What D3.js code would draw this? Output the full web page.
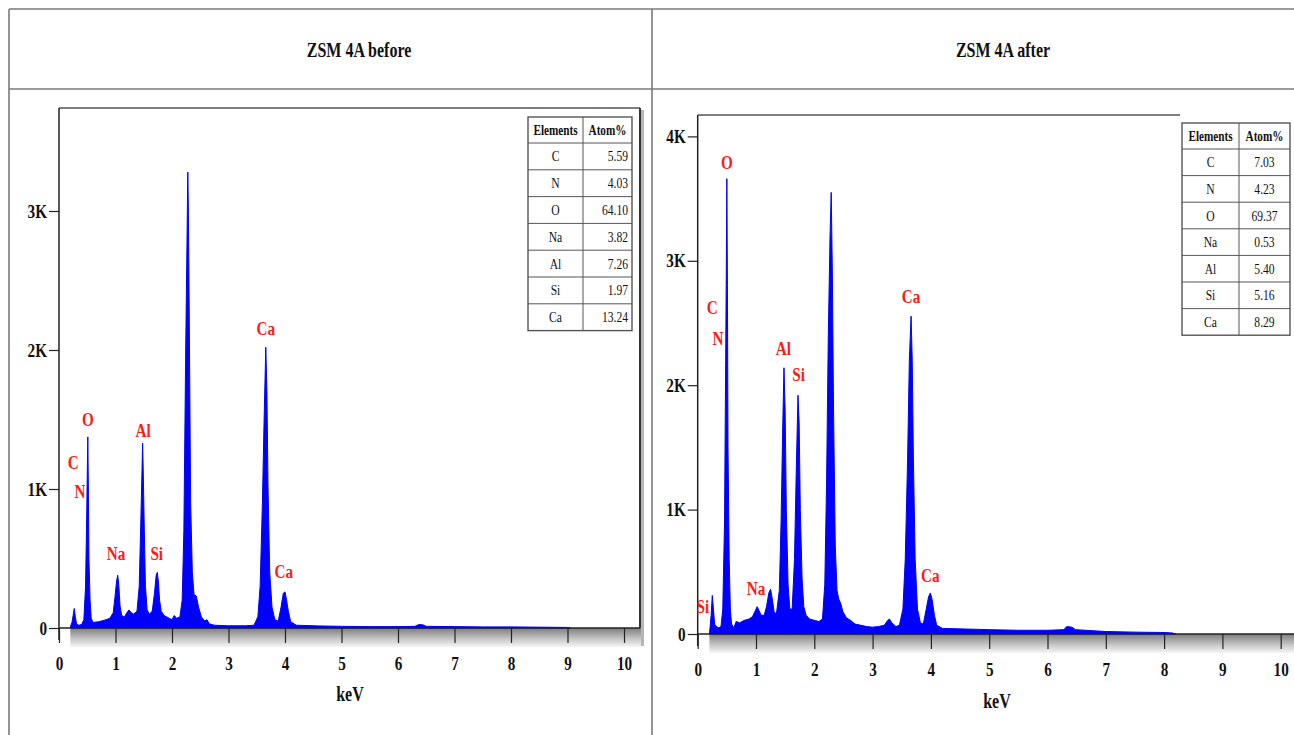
<!DOCTYPE html>
<html>
<head>
<meta charset="utf-8">
<script src="https://cdn.jsdelivr.net/npm/d3@7"></script>
<style>
  body { margin: 0; background: #fff; }
  svg { display: block; font-family: "Liberation Serif", "DejaVu Serif", serif; }
</style>
</head>
<body>
<svg id="chart" width="1294" height="735"></svg>
<script>
// EDS spectra, [keV, counts]
const spectrumBefore = [
  [0.20, 0], [0.21, 20], [0.23, 40], [0.25, 90], [0.27, 140], [0.29, 80], [0.31, 30], [0.35, 20],
  [0.40, 25], [0.44, 60], [0.47, 300], [0.49, 800], [0.50, 1100], [0.51, 1375], [0.52, 1000],
  [0.53, 500], [0.55, 200], [0.57, 70], [0.60, 40], [0.70, 45], [0.80, 55], [0.90, 70], [0.96, 110],
  [0.99, 220], [1.02, 340], [1.04, 380], [1.06, 300], [1.08, 160], [1.11, 90], [1.16, 80],
  [1.20, 110], [1.24, 130], [1.28, 110], [1.32, 100], [1.38, 120], [1.42, 300], [1.45, 800],
  [1.47, 1150], [1.48, 1330], [1.49, 1150], [1.51, 700], [1.53, 300], [1.56, 130], [1.60, 100],
  [1.65, 120], [1.69, 250], [1.72, 380], [1.74, 400], [1.76, 330], [1.78, 200], [1.81, 120],
  [1.86, 90], [1.95, 70], [2.00, 60], [2.04, 90], [2.08, 70], [2.14, 80], [2.18, 200], [2.21, 700],
  [2.24, 1900], [2.26, 2600], [2.28, 3280], [2.29, 3000], [2.31, 2000], [2.33, 900], [2.36, 400],
  [2.39, 240], [2.43, 230], [2.47, 150], [2.52, 80], [2.58, 50], [2.62, 60], [2.66, 30], [2.75, 20],
  [3.00, 16], [3.30, 16], [3.45, 20], [3.52, 80], [3.56, 300], [3.60, 900], [3.63, 1500],
  [3.66, 2020], [3.68, 1700], [3.70, 1000], [3.73, 400], [3.77, 150], [3.82, 60], [3.88, 50],
  [3.93, 150], [3.97, 250], [4.00, 260], [4.02, 220], [4.06, 120], [4.10, 45], [4.20, 20],
  [4.60, 15], [5.00, 12], [5.50, 10], [6.00, 10], [6.30, 12], [6.37, 25], [6.45, 22], [6.50, 12],
  [7.00, 10], [7.50, 8], [8.00, 8], [8.50, 6], [9.00, 4], [9.05, 0]
];

const spectrumAfter = [
  [0.20, 0], [0.21, 40], [0.23, 150], [0.25, 310], [0.27, 200], [0.29, 80], [0.32, 60], [0.36, 50],
  [0.40, 60], [0.43, 200], [0.46, 900], [0.48, 2200], [0.49, 2900], [0.50, 3660], [0.51, 2800],
  [0.52, 1500], [0.54, 600], [0.56, 200], [0.58, 80], [0.62, 50], [0.66, 100], [0.72, 90],
  [0.80, 110], [0.88, 120], [0.94, 140], [0.98, 180], [1.02, 220], [1.05, 190], [1.09, 150],
  [1.14, 150], [1.18, 220], [1.22, 330], [1.25, 360], [1.28, 280], [1.31, 180], [1.35, 160],
  [1.40, 350], [1.43, 900], [1.46, 1700], [1.48, 2140], [1.50, 1800], [1.52, 1000], [1.55, 400],
  [1.58, 200], [1.62, 200], [1.66, 600], [1.69, 1300], [1.72, 1920], [1.74, 1700], [1.76, 1000],
  [1.79, 450], [1.82, 220], [1.86, 150], [1.92, 120], [2.00, 110], [2.08, 100], [2.14, 120],
  [2.18, 400], [2.21, 1200], [2.24, 2400], [2.27, 3200], [2.29, 3550], [2.31, 2900], [2.33, 1800],
  [2.36, 700], [2.39, 350], [2.42, 280], [2.45, 250], [2.49, 180], [2.55, 130], [2.62, 110],
  [2.70, 80], [2.80, 70], [2.90, 60], [3.00, 55], [3.10, 60], [3.20, 70], [3.26, 110], [3.29, 120],
  [3.33, 90], [3.40, 60], [3.46, 70], [3.52, 200], [3.56, 600], [3.60, 1400], [3.63, 2200],
  [3.66, 2555], [3.68, 2200], [3.70, 1400], [3.73, 600], [3.77, 200], [3.82, 90], [3.87, 80],
  [3.92, 200], [3.96, 300], [3.99, 330], [4.02, 280], [4.06, 150], [4.10, 70], [4.20, 45],
  [4.60, 40], [5.00, 35], [5.50, 30], [6.00, 30], [6.28, 35], [6.33, 60], [6.42, 55], [6.48, 35],
  [7.00, 20], [7.50, 15], [8.00, 12], [8.15, 8], [8.20, 0]
];

// peak labels: element, keV, counts (label centre)
const labelsBefore = [
  ["C", 0.25, 1190], ["N", 0.37, 980], ["O", 0.51, 1500], ["Na", 1.01, 530],
  ["Al", 1.49, 1420], ["Si", 1.73, 530], ["Ca", 3.66, 2150], ["Ca", 3.98, 400]
];
const labelsAfter = [
  ["O", 0.50, 3790], ["C", 0.25, 2620], ["N", 0.35, 2370], ["Al", 1.47, 2290],
  ["Si", 1.73, 2080], ["Ca", 3.66, 2710], ["Na", 1.00, 360], ["Si", 0.09, 220], ["Ca", 3.99, 470]
];

const elements = ["C", "N", "O", "Na", "Al", "Si", "Ca"];
const atomBefore = ["5.59", "4.03", "64.10", "3.82", "7.26", "1.97", "13.24"];
const atomAfter = ["7.03", "4.23", "69.37", "0.53", "5.40", "5.16", "8.29"];

const xTicks = [0, 1, 2, 3, 4, 5, 6, 7, 8, 9, 10];
const yTicksBefore = [0, 1000, 2000, 3000];
const yTicksAfter = [0, 1000, 2000, 3000, 4000];

const svg = d3.select("#chart");
const SX = 0.8; // condensed look of the original typeface
const FONT = "'Liberation Serif', 'DejaVu Serif', serif";

const defs = svg.append("defs");
const grad = defs.append("linearGradient").attr("id", "band").attr("x1", 0).attr("y1", 0).attr("x2", 0).attr("y2", 1);
grad.append("stop").attr("offset", "0%").attr("stop-color", "#7d7d7d");
grad.append("stop").attr("offset", "55%").attr("stop-color", "#c4c4c4");
grad.append("stop").attr("offset", "100%").attr("stop-color", "#f6f6f6");

// page grid
const gridColor = "#7a7a7a";
svg.append("line").attr("x1", 9).attr("x2", 1294).attr("y1", 9).attr("y2", 9).attr("stroke", gridColor).attr("stroke-width", 1.6);
svg.append("line").attr("x1", 9).attr("x2", 1294).attr("y1", 89).attr("y2", 89).attr("stroke", gridColor).attr("stroke-width", 1.6);
svg.append("line").attr("x1", 9).attr("x2", 9).attr("y1", 9).attr("y2", 735).attr("stroke", gridColor).attr("stroke-width", 1.6);
svg.append("line").attr("x1", 652).attr("x2", 652).attr("y1", 9).attr("y2", 735).attr("stroke", gridColor).attr("stroke-width", 1.6);

function condensedText(g, x, y, str, size, opts = {}) {
  return g.append("text")
    .attr("transform", `translate(${x},${y}) scale(${SX},1)`)
    .attr("text-anchor", opts.anchor || "middle")
    .attr("font-family", FONT)
    .attr("font-size", size)
    .attr("font-weight", opts.weight || "bold")
    .attr("fill", opts.fill || "#111")
    .text(str);
}

function drawPanel(cfg) {
  const g = svg.append("g");

  condensedText(g, cfg.titleX, 57, cfg.title, 20);

  const x = d3.scaleLinear().domain([0, 10]).range([cfg.x0, cfg.x10]);
  const y = d3.scaleLinear().domain([0, cfg.yMax]).range([cfg.y0, cfg.yTop]);

  // gray band below the baseline
  g.append("rect")
    .attr("x", x(0.2)).attr("y", cfg.y0)
    .attr("width", cfg.bandRight - x(0.2)).attr("height", 19)
    .attr("fill", "url(#band)");

  // frame
  g.append("line").attr("x1", cfg.x0).attr("x2", cfg.frameRight).attr("y1", cfg.frameTop).attr("y2", cfg.frameTop)
    .attr("stroke", "#555").attr("stroke-width", 1.5);
  if (cfg.frameRight < 1294) {
    g.append("rect").attr("x", cfg.frameRight + 1).attr("y", cfg.frameTop + 2)
      .attr("width", 3).attr("height", cfg.y0 - cfg.frameTop + 16).attr("fill", "#b5b5b5");
    g.append("line").attr("x1", cfg.frameRight).attr("x2", cfg.frameRight).attr("y1", cfg.frameTop).attr("y2", cfg.y0)
      .attr("stroke", "#333").attr("stroke-width", 2);
  }

  // spectrum
  const area = d3.area()
    .x(d => x(d[0]))
    .y0(y(0))
    .y1(d => y(d[1]));
  g.append("path")
    .datum(cfg.spectrum)
    .attr("d", area)
    .attr("fill", "#0000ff")
    .attr("stroke", "#0000ff")
    .attr("stroke-width", 1);

  // axes
  const xAxis = g.append("g")
    .attr("transform", `translate(0,${cfg.y0})`)
    .call(d3.axisBottom(x).tickValues(xTicks).tickSize(15).tickPadding(14).tickFormat(d3.format("d")));
  xAxis.select(".domain").remove();
  xAxis.selectAll("line").attr("stroke", "#222").attr("stroke-width", 1.2);
  xAxis.selectAll("text")
    .attr("font-family", FONT)
    .attr("font-size", 19).attr("font-weight", "bold").attr("fill", "#111")
    .attr("transform", `scale(${SX},1)`);

  const yAxis = g.append("g")
    .attr("transform", `translate(${cfg.x0},0)`)
    .call(d3.axisLeft(y).tickValues(cfg.yTicks).tickSize(10).tickPadding(2)
      .tickFormat(d => d === 0 ? "0" : (d / 1000) + "K"));
  yAxis.select(".domain").remove();
  yAxis.selectAll("line").attr("stroke", "#222").attr("stroke-width", 1.2);
  yAxis.selectAll("text")
    .attr("font-family", FONT)
    .attr("font-size", 19).attr("font-weight", "bold").attr("fill", "#111")
    .attr("x", -12 / SX)
    .attr("transform", `scale(${SX},1)`);

  // axis lines
  g.append("line").attr("x1", cfg.x0).attr("x2", cfg.x0).attr("y1", cfg.frameTop).attr("y2", cfg.y0 + 12)
    .attr("stroke", "#222").attr("stroke-width", 1.5);
  g.append("line").attr("x1", cfg.x0).attr("x2", Math.min(cfg.frameRight, 1294)).attr("y1", cfg.y0).attr("y2", cfg.y0)
    .attr("stroke", "#222").attr("stroke-width", 1.5);

  condensedText(g, cfg.kevX, cfg.kevY, "keV", 20);

  // peak labels
  cfg.labels.forEach(([t, kev, c]) => {
    condensedText(g, x(kev), y(c) + 6, t, 19, { fill: "#ff1a1a" });
  });

  // element table
  const tb = cfg.table;
  const tg = g.append("g");
  const nRows = elements.length;
  const bottom = tb.y0 + tb.headerH + nRows * tb.rowH;
  if (tb.mask) {
    tg.append("rect").attr("x", tb.x0 - 2).attr("y", cfg.frameTop - 2)
      .attr("width", tb.x1 - tb.x0 + 6).attr("height", bottom - cfg.frameTop + 6).attr("fill", "#fff");
  }
  tg.append("rect").attr("x", tb.x0).attr("y", tb.y0)
    .attr("width", tb.x1 - tb.x0).attr("height", bottom - tb.y0)
    .attr("fill", "#fff").attr("stroke", "#555").attr("stroke-width", 1.4);
  tg.append("line").attr("x1", tb.xd).attr("x2", tb.xd).attr("y1", tb.y0).attr("y2", bottom)
    .attr("stroke", "#555").attr("stroke-width", 1);
  const rowY = d3.range(nRows + 1).map(i => tb.y0 + tb.headerH + i * tb.rowH);
  rowY.slice(0, nRows).forEach(ry => {
    tg.append("line").attr("x1", tb.x0).attr("x2", tb.x1).attr("y1", ry).attr("y2", ry)
      .attr("stroke", "#555").attr("stroke-width", 1);
  });
  condensedText(tg, (tb.x0 + tb.xd) / 2, tb.y0 + tb.headerH / 2 + 5, "Elements", 14);
  condensedText(tg, (tb.xd + tb.x1) / 2, tb.y0 + tb.headerH / 2 + 5, "Atom%", 14);
  elements.forEach((el, i) => {
    const cy = tb.y0 + tb.headerH + (i + 0.5) * tb.rowH + 5;
    condensedText(tg, (tb.x0 + tb.xd) / 2, cy, el, 14.5, { weight: "normal" });
    if (tb.alignRight) {
      condensedText(tg, tb.x1 - 4, cy, tb.values[i], 14.5, { weight: "normal", anchor: "end" });
    } else {
      condensedText(tg, (tb.xd + tb.x1) / 2, cy, tb.values[i], 14.5, { weight: "normal" });
    }
  });
}

drawPanel({
  title: "ZSM 4A before", titleX: 359,
  spectrum: spectrumBefore, labels: labelsBefore,
  x0: 59, x10: 624, y0: 628, yMax: 3000, yTop: 211, yTicks: yTicksBefore,
  frameTop: 108, frameRight: 640, bandRight: 643,
  kevX: 350, kevY: 701,
  table: { x0: 528, xd: 583, x1: 632, y0: 117, headerH: 26, rowH: 26.8, values: atomBefore, alignRight: true, mask: false }
});

drawPanel({
  title: "ZSM 4A  after", titleX: 1003,
  spectrum: spectrumAfter, labels: labelsAfter,
  x0: 697.7, x10: 1280.7, y0: 634, yMax: 4000, yTop: 136.4, yTicks: yTicksAfter,
  frameTop: 115, frameRight: 1300, bandRight: 1294,
  kevX: 997, kevY: 708,
  table: { x0: 1182, xd: 1239, x1: 1290, y0: 123, headerH: 26, rowH: 26.6, values: atomAfter, alignRight: false, mask: true }
});
</script>
</body>
</html>
